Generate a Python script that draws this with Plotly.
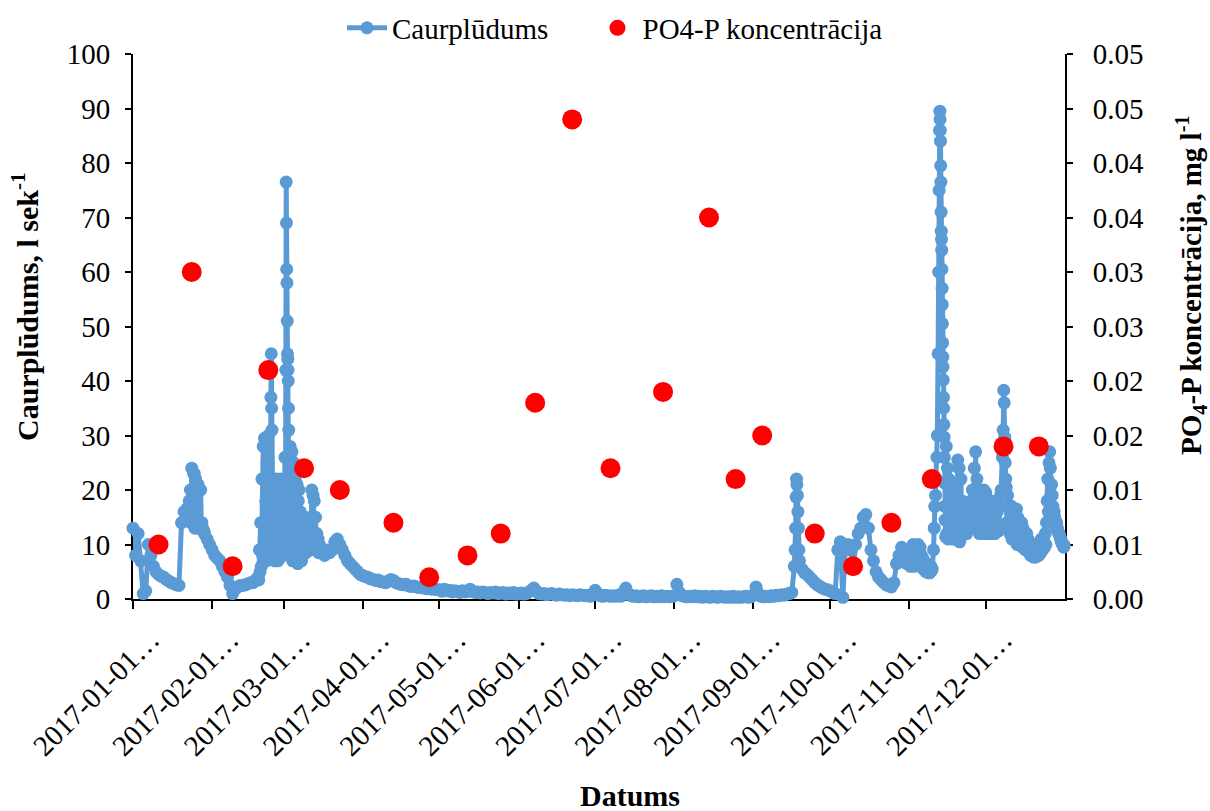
import pandas as pd
import plotly.graph_objects as go

# ---------------- DATA ----------------
# Daily discharge (l/s) at 00:00, one value per day, by month
flow_jan = [13, 8, 12, 7, 1, 1.5, 10, 8, 6, 5, 4.5, 4.2, 4, 3.6, 3.3, 3, 2.8, 2.6, 2.5, 14,
            16, 16.5, 18, 24, 23, 21, 20, 14, 12, 11, 10]
flow_feb = [9, 8, 7.5, 7, 6, 5, 4, 2.5, 1, 1.8, 2.2, 2.5, 2.5, 2.6, 2.8, 3, 3, 3.5, 4, 14,
            28, 18, 30, 37, 12, 20, 10, 22]
flow_mar = [20, 76.5, 31, 12, 25, 10, 20, 7, 15, 10, 13, 20, 18, 12, 10, 9, 8, 9, 8.5, 9,
            10.5, 11, 10, 9, 8, 7, 6.5, 6, 5.5, 5, 4.5]
flow_apr = [4.3, 4.1, 4.0, 3.7, 3.6, 3.4, 3.5, 3.2, 3.1, 3.0, 3.3, 3.6, 3.4, 3.0, 2.8, 2.7, 2.6, 2.7,
            2.4, 2.3, 2.4, 2.2, 2.1, 2.2, 2.0, 1.9, 2.0, 1.8, 1.9, 1.7]
flow_may = [1.7, 1.4, 1.8, 1.5, 1.6, 1.3, 1.5, 1.4, 1.2, 1.5, 1.3, 1.4, 1.8, 1.4, 1.2, 1.3, 1.1, 1.3,
            1.2, 1.0, 1.2, 1.1, 1.3, 1.0, 1.1, 1.2, 0.9, 1.1, 1.0, 1.2, 0.9]
flow_jun = [1.0, 1.1, 0.9, 1.0, 1.3, 1.6, 2.0, 1.4, 1.0, 0.9, 1.0, 0.8, 0.9, 1.0, 0.8, 0.7, 0.9, 0.8,
            0.7, 0.8, 0.6, 0.8, 0.7, 0.6, 0.8, 0.7, 0.6, 0.7, 0.5, 0.7]
flow_jul = [1.6, 1.0, 0.6, 0.5, 0.7, 0.6, 0.5, 0.6, 0.5, 0.7, 0.5, 1.2, 2.0, 1.0, 0.6, 0.5, 0.6, 0.4,
            0.5, 0.6, 0.4, 0.5, 0.6, 0.4, 0.5, 0.4, 0.6, 0.4, 0.5, 0.4, 0.5]
flow_aug = [0.6, 2.7, 1.2, 0.6, 0.5, 0.4, 0.5, 0.4, 0.6, 0.4, 0.5, 0.3, 0.5, 0.4, 0.3, 0.5, 0.4, 0.3,
            0.5, 0.4, 0.3, 0.4, 0.3, 0.5, 0.3, 0.4, 0.3, 0.4, 0.5, 0.3, 0.4]
flow_sep = [0.8, 2.2, 1.0, 0.5, 0.4, 0.5, 0.4, 0.6, 0.5, 0.7, 0.6, 0.8, 0.7, 0.9, 1.0, 1.2, 6, 21, 7,
            5.5, 4.8, 4.5, 4.0, 3.5, 3.0, 2.6, 2.3, 2.0, 1.8, 1.7]
flow_oct = [1.5, 1.2, 1.0, 9, 10.5, 0.3, 9.5, 10, 9, 6.5, 10, 12, 13, 15, 15.5, 13, 9, 7, 5, 4,
            3.5, 3, 2.6, 2.4, 2.2, 3, 6.5, 8, 9.5, 8, 6.5]
flow_nov = [7, 9.5, 6, 9.8, 8, 6, 5.5, 5, 4.8, 5.5, 17, 30, 89.5, 50.5, 14.5, 24, 12, 18, 11, 25.5,
            11, 17, 12, 15, 13, 20, 27, 13, 19, 12]
flow_dec = [19.5, 13, 18, 12, 16, 12.5, 20, 38.3, 20.5, 14, 17, 11, 16.5, 10, 14, 9.5, 12, 9, 10, 8,
            8.5, 9, 11, 9.5, 18, 27, 19, 15, 13, 11.5, 10]

# 6-hourly readings (06:00, 12:00, 18:00) during flood windows; first day of each window given
jan_6h_start = 22
jan_6h = [15, 20, 14, 19, 14, 23, 13, 22, 14, 13.5, 21, 13, 14, 20, 13, 13, 12.5, 12.5]
feb_6h_a_start = 49
feb_6h_a = [3.5, 9, 5, 6, 22, 8, 9, 29.5, 10, 7, 25, 8, 9, 22, 8]
feb_6h_b_start = 55
feb_6h_b = [22, 7, 20, 8, 22, 7, 19, 7.5, 21, 8, 20, 9, 9, 26, 12]
mar_6h_start = 61
mar_6h = [10, 28, 9, 27, 7, 24, 8, 22, 7, 21, 6.5, 18, 7, 16, 8, 15, 8, 14, 9, 13, 8.5,
          14, 9, 13, 10, 15, 9, 12, 19, 11, 10, 15, 9, 9, 11, 8.5]
nov_6h_a_start = 304
nov_6h_a = [9, 6, 8.5, 7, 10, 6.5, 9, 7, 9.5, 7, 10, 8, 9.5, 6.5, 8, 7.5, 5.5, 7, 6, 5, 6.5,
            5.5, 4.8, 5.5, 5, 6, 5.2]
nov_6h_b_start = 318
nov_6h_b = [11.4, 28, 12, 11, 22, 12, 21, 12, 19, 11, 20, 11.5, 17, 12, 18, 11, 24, 10.5,
            22, 12, 18, 12, 16, 12.5, 15, 12, 14, 13, 16, 13, 18, 13, 20, 14, 24, 13, 16, 22, 13,
            20, 12, 19, 12, 18, 12, 20, 12.5, 19, 12.5, 18, 12, 18, 12, 17, 12, 17, 12, 16, 12, 17,
            12.5, 16, 13, 17, 13, 19]
dec_6h_start = 342
dec_6h = [14, 19, 13, 17, 12, 16, 11, 16.5, 11, 16.5, 11, 15, 10, 15, 10, 14, 10, 13, 9.5, 13,
          9.5, 12, 9, 12, 9, 11, 9, 10, 8, 9.5, 8, 9, 7.7, 9, 7.7, 8.5, 8, 9, 8, 10.5, 8.5, 11,
          9, 11, 9.5, 12, 10, 14, 22, 16, 25, 24, 19, 21, 17, 15, 16, 14, 13, 14, 12.5, 12, 12,
          11, 10.5, 10.5, 10, 9.5, 9.8]

# Hourly readings on the steepest flood peaks (day counted from 1 Jan = 0, value l/s)
peak_day = [54.15, 54.3, 54.45, 54.6, 54.8,
            59.85, 60.1, 60.2, 60.3, 60.4, 60.5, 60.6, 60.7, 60.8, 60.9,
            259.3, 259.5, 259.7, 259.85, 260.2, 260.4, 260.6, 260.8,
            313.5, 313.8, 314.3, 314.6, 314.85, 315.3, 315.5, 315.7, 315.85,
            316.08, 316.16, 316.24, 316.32, 316.4, 316.48, 316.56, 316.64, 316.72, 316.8, 316.88, 316.94,
            317.08, 317.16, 317.24, 317.32, 317.4, 317.48, 317.56, 317.64, 317.72, 317.8, 317.88,
            340.5, 340.8, 341.2, 341.4, 341.6, 341.8]
peak_value = [45, 35, 31, 22, 8,
              42, 69, 60.5, 58, 51, 45, 44, 42, 40, 35,
              9, 13, 18.7, 22, 19, 16, 13, 9,
              9, 13, 19, 22, 26, 45, 60, 75, 86,
              88, 86, 84, 79.5, 76.5, 71, 67.5, 66, 64, 60.5, 57, 54,
              47, 44.4, 42.6, 40.2, 37, 35, 32, 29.7, 26, 21.3, 17,
              26, 31, 36, 29.7, 25, 22]

# PO4-P concentration samples (mg/l)
po4_dates = ["2017-01-11 00:00", "2017-01-24 00:00", "2017-02-09 00:00", "2017-02-23 00:00",
             "2017-03-09 00:00", "2017-03-23 00:00", "2017-04-13 00:00", "2017-04-27 00:00",
             "2017-05-12 00:00", "2017-05-25 00:00", "2017-06-07 12:00", "2017-06-22 00:00",
             "2017-07-07 00:00", "2017-07-27 14:00", "2017-08-14 14:00", "2017-08-25 00:00",
             "2017-09-04 10:00", "2017-09-25 00:00", "2017-10-10 00:00", "2017-10-25 00:00",
             "2017-11-09 20:00", "2017-12-07 22:00", "2017-12-21 18:00"]
po4_values = [0.005, 0.030, 0.003, 0.021, 0.012, 0.010, 0.007, 0.002, 0.004, 0.006, 0.018, 0.044,
              0.012, 0.019, 0.035, 0.011, 0.015, 0.006, 0.003, 0.007, 0.011, 0.014, 0.014]

left_tickvals = [0, 10, 20, 30, 40, 50, 60, 70, 80, 90, 100]
right_tickvals = [0, 0.005, 0.01, 0.015, 0.02, 0.025, 0.03, 0.035, 0.04, 0.045, 0.05]
right_ticktext = ["0.00", "0.01", "0.01", "0.02", "0.02", "0.03", "0.03", "0.04", "0.04", "0.05", "0.05"]
month_ticks = ["2017-01-01", "2017-02-01", "2017-03-01", "2017-04-01", "2017-05-01", "2017-06-01",
               "2017-07-01", "2017-08-01", "2017-09-01", "2017-10-01", "2017-11-01", "2017-12-01"]
month_labels = [m + "…" for m in month_ticks]

# ---------------- BUILD ----------------
daily = (flow_jan + flow_feb + flow_mar + flow_apr + flow_may + flow_jun +
         flow_jul + flow_aug + flow_sep + flow_oct + flow_nov + flow_dec)
days = list(range(len(daily)))
values = list(daily)


def add_6h(start_day, vals):
    for i, v in enumerate(vals):
        days.append(start_day + i // 3 + 0.25 * (i % 3 + 1))
        values.append(v)


for s, v in [(jan_6h_start, jan_6h), (feb_6h_a_start, feb_6h_a), (feb_6h_b_start, feb_6h_b),
             (mar_6h_start, mar_6h), (nov_6h_a_start, nov_6h_a), (nov_6h_b_start, nov_6h_b),
             (dec_6h_start, dec_6h)]:
    add_6h(s, v)
days += peak_day
values += peak_value

df = pd.DataFrame({"day": days, "value": values}).sort_values("day", kind="stable")
df["time"] = pd.Timestamp("2017-01-01") + pd.to_timedelta(df["day"], unit="D")

FONT = "Times New Roman, Liberation Serif, DejaVu Serif, serif"
BLUE = "#5B9BD5"

fig = go.Figure()
fig.add_trace(go.Scatter(
    x=df["time"], y=df["value"], name="Caurplūdums", mode="lines+markers",
    line=dict(color=BLUE, width=5), marker=dict(color=BLUE, size=13),
    cliponaxis=False, yaxis="y", legend="legend", showlegend=True))
fig.add_trace(go.Scatter(
    x=po4_dates, y=po4_values, name="PO4-P koncentrācija", mode="markers",
    marker=dict(color="#FF0000", size=20), cliponaxis=False, yaxis="y2", legend="legend2",
    showlegend=True))

axis_common = dict(showline=True, linecolor="black", linewidth=2, showgrid=False, zeroline=False,
                   ticks="outside", tickcolor="black", tickwidth=2, layer="below traces",
                   automargin=False)

legend_common = dict(orientation="h", xanchor="center", yref="container", y=1 - 28 / 811,
                     yanchor="middle", font=dict(family=FONT, size=29), bgcolor="rgba(0,0,0,0)",
                     itemwidth=40, visible=True)

fig.update_layout(
    width=1210, height=811,
    showlegend=True,
    margin=dict(l=133, r=145, t=54, b=212, autoexpand=False),
    paper_bgcolor="white", plot_bgcolor="white",
    font=dict(family=FONT, size=29, color="black"),
    legend=dict(x=(448 - 133) / 932, **legend_common),
    legend2=dict(x=(740 - 133) / 932, **legend_common),
    xaxis=dict(type="date", range=["2017-01-01", "2018-01-01"], tickvals=month_ticks,
               ticktext=month_labels, tickangle=-45, ticklen=8, ticklabelshift=18,
               ticklabelstandoff=2, **axis_common),
    yaxis=dict(range=[0, 100], tickvals=left_tickvals, ticklen=6, ticklabelstandoff=9,
               **axis_common),
    yaxis2=dict(range=[0, 0.05], overlaying="y", side="right", tickvals=right_tickvals,
                ticktext=right_ticktext, ticklen=6, ticklabelstandoff=14,
                **axis_common),
    annotations=[
        dict(text="<b>Datums</b>", x=0.533, y=(599 - 795) / 545, xref="paper", yref="paper",
             xanchor="center", yanchor="middle", showarrow=False, font=dict(family=FONT, size=30)),
        dict(text="<b>Caurplūdums, l sek<sup>-1</sup></b>", textangle=-90,
             x=(25 - 133) / 932, y=(599 - 307) / 545, xref="paper", yref="paper",
             xanchor="center", yanchor="middle", showarrow=False, font=dict(family=FONT, size=30)),
        dict(text="<b>PO<sub>4</sub>-P koncentrācija, mg l<sup>-1</sup></b>", textangle=-90,
             x=(1191 - 133) / 932, y=(599 - 285) / 545, xref="paper", yref="paper",
             xanchor="center", yanchor="middle", showarrow=False, font=dict(family=FONT, size=29)),
    ],
)

fig.write_html("out.html")
